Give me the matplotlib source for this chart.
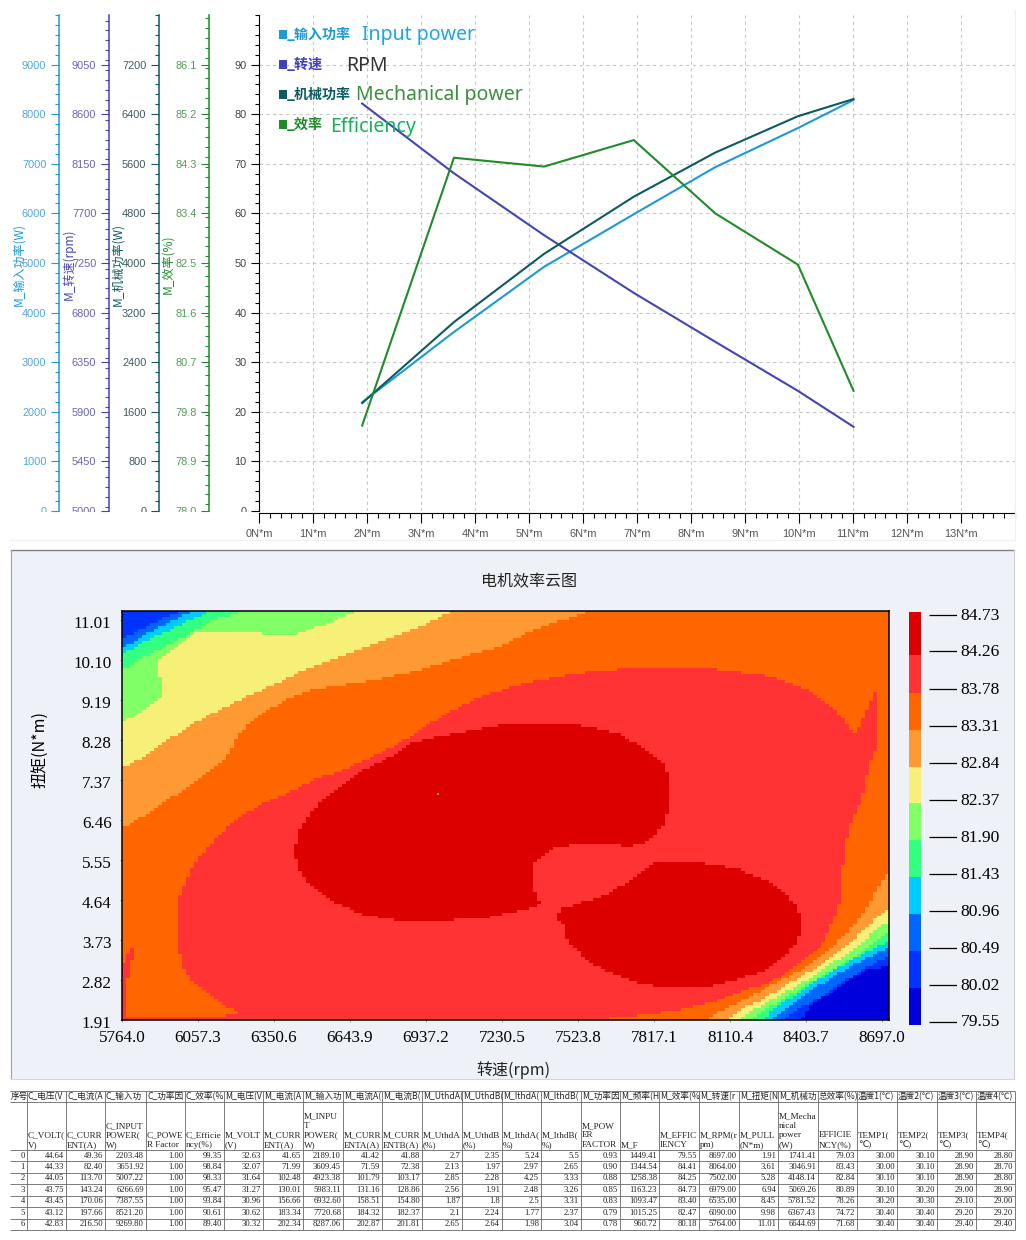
import numpy as np
import matplotlib
matplotlib.use('Agg')
import matplotlib.pyplot as plt
from matplotlib.colors import ListedColormap, BoundaryNorm
from matplotlib.lines import Line2D
from matplotlib.patches import Rectangle
from matplotlib.path import Path
from matplotlib.ticker import MultipleLocator
from matplotlib.transforms import Bbox, TransformedBbox, ScaledTranslation

W, H = 1026, 1240
CJK = ['Noto Sans CJK SC', 'DejaVu Sans']
ARIAL = 'Liberation Sans'
SERIF = 'Liberation Serif'

# curvas de arriba
torque = [1.91, 3.61, 5.28, 6.94, 8.45, 9.98, 11.01]
input_power = [2189.10, 3609.45, 4923.38, 5983.11, 6932.60, 7720.68, 8287.06]
rpm = [8697, 8064, 7502, 6979, 6535, 6090, 5764]
mech_power = [1741.41, 3046.91, 4148.14, 5069.26, 5781.52, 6367.43, 6644.69]
efficiency = [79.55, 84.41, 84.25, 84.73, 83.40, 82.47, 80.18]

# bandas del mapa
levels = [79.55, 80.02, 80.49, 80.96, 81.43, 81.90, 82.37, 82.84, 83.31, 83.78, 84.26, 84.73]
band_colors = ['#0000DD', '#0033FF', '#0066FF', '#00CCFF', '#33FF80', '#80FF66',
               '#F7F078', '#FF9933', '#FF6600', '#FF3333', '#DD0000']
rpm_ticks = [5764.0, 6057.3, 6350.6, 6643.9, 6937.2, 7230.5, 7523.8, 7817.1, 8110.4, 8403.7, 8697.0]
torque_ticks = [1.91, 2.82, 3.73, 4.64, 5.55, 6.46, 7.37, 8.28, 9.19, 10.10, 11.01]
RPM_MAX, TORQUE_MAX = 8724, 11.22

# contornos (rpm, par), banda 8 es el fondo
tl_band7 = [(5764, 6.28), (5872, 6.64), (5999, 7.14), (6104, 7.55), (6169, 7.89), (6219, 8.44), (6285, 8.80),
            (6401, 9.24), (6517, 9.46), (6709, 9.62), (6902, 9.87), (7095, 10.21), (7223, 10.40), (7319, 10.71),
            (7408, 10.90), (7493, 11.06), (7570, 11.22), (5764, 11.22)]
tl_band6 = [(5764, 7.64), (5845, 7.89), (5961, 8.35), (6065, 8.74), (6173, 9.08), (6324, 9.49), (6451, 9.83),
            (6644, 10.28), (6810, 10.62), (6941, 10.94), (7041, 11.22), (5764, 11.22)]
tl_band5 = [(5764, 8.67), (5822, 8.85), (5872, 9.08), (5911, 9.26), (5911, 9.71), (5899, 9.83), (5911, 10.15),
            (5957, 10.37), (6038, 10.71), (6123, 10.76), (6285, 10.76), (6308, 10.71), (6439, 10.71),
            (6567, 10.96), (6671, 11.22), (5764, 11.22)]
tl_band4 = [(5764, 9.87), (5845, 10.17), (5938, 10.44), (6015, 10.67), (6115, 11.01), (6227, 11.22), (5764, 11.22)]
tl_band3 = [(5764, 10.21), (5833, 10.49), (5922, 10.71), (5999, 10.94), (6104, 11.22), (5764, 11.22)]
tl_band2 = [(5764, 10.37), (5806, 10.51), (5884, 10.78), (5976, 11.06), (6038, 11.22), (5764, 11.22)]
tl_band1 = [(5764, 10.56), (5806, 10.71), (5884, 10.94), (5988, 11.22), (5764, 11.22)]

main_band9 = [(5764, 1.91), (5764, 3.14), (5779, 3.32), (5795, 3.46), (5810, 3.57), (5822, 3.57), (5810, 3.50),
              (5810, 3.30), (5795, 3.25), (5795, 2.89), (5779, 2.87), (5779, 1.98), (6057, 1.98), (6192, 2.02),
              (6223, 2.09), (6154, 2.25), (6092, 2.52), (6038, 2.77), (5999, 3.12), (5980, 3.55), (5972, 4.41),
              (5988, 4.75), (6015, 5.16), (6046, 5.48), (6092, 5.82), (6150, 6.19), (6219, 6.53), (6308, 6.85),
              (6432, 7.14), (6501, 7.37), (6617, 7.60), (6748, 7.94), (6887, 8.39), (7003, 8.85), (7134, 9.24),
              (7242, 9.46), (7338, 9.60), (7454, 9.74), (7609, 9.87), (7840, 9.96), (7983, 9.94), (8103, 9.87),
              (8245, 9.76), (8342, 9.60), (8438, 9.35), (8523, 8.92), (8573, 8.55), (8585, 8.39), (8604, 8.55),
              (8639, 8.96), (8666, 9.39), (8678, 9.39), (8678, 8.14), (8651, 7.76), (8620, 6.98), (8581, 6.46),
              (8562, 6.07), (8546, 5.39), (8531, 4.57), (8504, 4.12), (8458, 3.57), (8388, 3.28), (8330, 2.98),
              (8253, 2.75), (8141, 2.52), (8033, 2.30), (7917, 2.14), (7736, 2.00), (7639, 1.96), (7639, 1.91)]
blob_left = [(6432, 5.85), (6443, 6.23), (6478, 6.53), (6528, 6.85), (6598, 7.19), (6709, 7.64), (6818, 7.94),
             (6887, 8.23), (7018, 8.39), (7184, 8.58), (7288, 8.67), (7466, 8.67), (7582, 8.55), (7674, 8.44),
             (7736, 8.23), (7802, 8.01), (7852, 7.76), (7879, 7.44), (7879, 6.92), (7867, 6.53), (7848, 6.30),
             (7813, 6.07), (7782, 5.94), (7724, 5.87), (7609, 5.94), (7570, 5.94), (7501, 5.91), (7435, 5.82),
             (7377, 5.62), (7350, 5.44), (7350, 4.87), (7362, 4.82), (7362, 4.64), (7377, 4.59), (7358, 4.48),
             (7242, 4.34), (7184, 4.25), (7068, 4.19), (6837, 4.16), (6694, 4.32), (6605, 4.53), (6540, 4.75),
             (6478, 5.05), (6443, 5.37), (6432, 5.62)]
blob_right = [(7450, 4.34), (7466, 4.46), (7570, 4.64), (7659, 4.84), (7751, 5.21), (7821, 5.50), (7983, 5.50),
              (8137, 5.37), (8276, 5.03), (8342, 4.69), (8369, 4.48), (8384, 4.25), (8384, 3.89), (8369, 3.66),
              (8315, 3.34), (8226, 2.98), (8083, 2.75), (8045, 2.68), (7821, 2.68), (7751, 2.77), (7620, 3.05),
              (7558, 3.28), (7501, 3.62), (7481, 3.73), (7466, 4.14), (7450, 4.19)]

br_band7 = [(8014, 1.91), (8099, 2.18), (8187, 2.43), (8292, 2.77), (8392, 3.05), (8485, 3.46), (8573, 3.96),
            (8639, 4.48), (8681, 4.94), (8712, 5.23), (8724, 5.23), (8724, 1.91)]
br_band6 = [(8103, 1.91), (8160, 2.18), (8253, 2.43), (8342, 2.75), (8431, 3.05), (8515, 3.43), (8600, 3.80),
            (8678, 4.25), (8724, 4.48), (8724, 1.91)]
br_band5 = [(8145, 1.91), (8214, 2.18), (8315, 2.52), (8407, 2.82), (8508, 3.21), (8600, 3.57), (8689, 4.03),
            (8724, 4.12), (8724, 1.91)]
br_band4 = [(8191, 1.91), (8265, 2.21), (8342, 2.48), (8419, 2.75), (8523, 3.09), (8612, 3.43), (8689, 3.78),
            (8724, 3.89), (8724, 1.91)]
br_band3 = [(8234, 1.91), (8303, 2.25), (8380, 2.55), (8469, 2.89), (8562, 3.21), (8639, 3.46), (8724, 3.68),
            (8724, 1.91)]
br_band2 = [(8276, 1.91), (8342, 2.25), (8407, 2.52), (8508, 2.89), (8600, 3.21), (8678, 3.43), (8724, 3.53),
            (8724, 1.91)]
br_band1 = [(8322, 1.91), (8380, 2.18), (8458, 2.43), (8546, 2.77), (8639, 3.12), (8724, 3.34), (8724, 1.91)]
br_band0 = [(8388, 1.91), (8419, 2.25), (8485, 2.48), (8562, 2.82), (8639, 3.05), (8724, 3.14), (8724, 1.91)]

regions = [(7, tl_band7), (6, tl_band6), (5, tl_band5), (4, tl_band4), (3, tl_band3), (2, tl_band2), (1, tl_band1),
           (9, main_band9), (10, blob_left), (10, blob_right),
           (7, br_band7), (6, br_band6), (5, br_band5), (4, br_band4), (3, br_band3),
           (2, br_band2), (1, br_band1), (0, br_band0)]

# tabla
table_head_cn = ['序号', 'C_电压(V', 'C_电流(A', 'C_输入功', 'C_功率因', 'C_效率(%', 'M_电压(V', 'M_电流(A', 'M_输入功',
                 'M_电流A(', 'M_电流B(', 'M_UthdA(', 'M_UthdB(', 'M_IthdA(', 'M_IthdB(', 'M_功率因', 'M_频率(H',
                 'M_效率(%', 'M_转速(r', 'M_扭矩(N', 'M_机械功', '总效率(%)', '温度1(℃)', '温度2(℃)', '温度3(℃)', '温度4(℃)']
table_head_en = ['', 'C_VOLT(\nV)', 'C_CURR\nENT(A)', 'C_INPUT\nPOWER(\nW)', 'C_POWE\nR Factor', 'C_Efficie\nncy(%)',
                 'M_VOLT\n(V)', 'M_CURR\nENT(A)', 'M_INPU\nT\nPOWER(\nW)', 'M_CURR\nENTA(A)', 'M_CURR\nENTB(A)',
                 'M_UthdA\n(%)', 'M_UthdB\n(%)', 'M_IthdA(\n%)', 'M_IthdB(\n%)', 'M_POW\nER\nFACTOR', 'M_F',
                 'M_EFFIC\nIENCY', 'M_RPM(r\npm)', 'M_PULL\n(N*m)', 'M_Mecha\nnical\npower\n(W)', 'EFFICIE\nNCY(%)',
                 'TEMP1(\n℃)', 'TEMP2(\n℃)', 'TEMP3(\n℃)', 'TEMP4(\n℃)']
table_rows = [
    ['0', '44.64', '49.36', '2203.48', '1.00', '99.35', '32.63', '41.65', '2189.10', '41.42', '41.88', '2.7', '2.35',
     '5.24', '5.5', '0.93', '1449.41', '79.55', '8697.00', '1.91', '1741.41', '79.03', '30.00', '30.10', '28.90', '28.80'],
    ['1', '44.33', '82.40', '3651.92', '1.00', '98.84', '32.07', '71.99', '3609.45', '71.59', '72.38', '2.13', '1.97',
     '2.97', '2.65', '0.90', '1344.54', '84.41', '8064.00', '3.61', '3046.91', '83.43', '30.00', '30.10', '28.90', '28.70'],
    ['2', '44.05', '113.70', '5007.22', '1.00', '98.33', '31.64', '102.48', '4923.38', '101.79', '103.17', '2.85', '2.28',
     '4.25', '3.33', '0.88', '1258.38', '84.25', '7502.00', '5.28', '4148.14', '82.84', '30.10', '30.10', '28.90', '28.80'],
    ['3', '43.75', '143.24', '6266.69', '1.00', '95.47', '31.27', '130.01', '5983.11', '131.16', '128.86', '2.56', '1.91',
     '2.48', '3.26', '0.85', '1163.23', '84.73', '6979.00', '6.94', '5069.26', '80.89', '30.10', '30.20', '29.00', '28.90'],
    ['4', '43.45', '170.06', '7387.55', '1.00', '93.84', '30.96', '156.66', '6932.60', '158.51', '154.80', '1.87', '1.8',
     '2.5', '3.31', '0.83', '1093.47', '83.40', '6535.00', '8.45', '5781.52', '78.26', '30.20', '30.30', '29.10', '29.00'],
    ['5', '43.12', '197.66', '8521.20', '1.00', '90.61', '30.62', '183.34', '7720.68', '184.32', '182.37', '2.1', '2.24',
     '1.77', '2.37', '0.79', '1015.25', '82.47', '6090.00', '9.98', '6367.43', '74.72', '30.40', '30.40', '29.20', '29.20'],
    ['6', '42.83', '216.50', '9269.80', '1.00', '89.40', '30.32', '202.34', '8287.06', '202.87', '201.81', '2.65', '2.64',
     '1.98', '3.04', '0.78', '960.72', '80.18', '5764.00', '11.01', '6644.69', '71.68', '30.40', '30.40', '29.40', '29.40'],
]


def px_axes(x0, y0, x1, y1, **kw):
    return fig.add_axes([x0 / W, 1 - y1 / H, (x1 - x0) / W, (y1 - y0) / H], **kw)


def px_text(x, y, s, size, **kw):
    # size en pixeles
    kw.setdefault('va', 'center')
    return fig.text(x / W, 1 - y / H, s, fontsize=size * 0.72, **kw)


fig = plt.figure(figsize=(W / 100, H / 100), dpi=100, facecolor='white')

# ---- panel de curvas ----
TOP_Y, BOT_Y, LEFT_X, RIGHT_X = 15, 511, 259, 1015
ax = px_axes(LEFT_X, TOP_Y, RIGHT_X, BOT_Y)
ax.set_xlim(0, 14)
ax.set_ylim(0, 100)
for s in ['top', 'right']:
    ax.spines[s].set_visible(False)
ax.spines['bottom'].set_position(('outward', 1.4))
ax.set_xticks(range(0, 14))
ax.set_xticklabels([f'{i}N*m' for i in range(0, 14)], fontsize=11 * 0.72, family=ARIAL, color='#555555')
ax.xaxis.set_minor_locator(MultipleLocator(0.2))
ax.tick_params(axis='x', which='major', length=7.5, width=0.8, pad=4)
ax.tick_params(axis='x', which='minor', length=3.6, width=0.8)
ax.set_yticks(range(0, 100, 10))
ax.set_yticklabels([str(v) for v in range(0, 100, 10)], fontsize=11 * 0.72, family=ARIAL, color='#444444')
ax.yaxis.set_minor_locator(MultipleLocator(2))
ax.tick_params(axis='y', which='major', length=6, width=0.8, pad=3)
ax.tick_params(axis='y', which='minor', length=3, width=0.8)
ax.grid(True, which='major', color='#C8C8C8', linestyle=(0, (3, 3)), linewidth=0.8)
ax.set_axisbelow(True)
ax.set_ylim(0, 100)

axis_specs = [
    (59, 0, 10000, 1000, '{:.0f}', input_power, '#1C9AD6', '#4FA8E0', 'M_输入功率(W)', 19),
    (109, 5000, 9500, 450, '{:.0f}', rpm, '#4444B4', '#6A62BE', 'M_转速(rpm)', 69),
    (159, 0, 8000, 800, '{:.0f}', mech_power, '#0B5B60', '#405A62', 'M_机械功率(W)', 118),
    (209, 78, 87, 0.9, '{:.1f}', efficiency, '#1E8C2A', '#549C55', 'M_效率(%)', 168),
]
clip = TransformedBbox(Bbox([[0, 1 - 512 / H], [1, 1]]), fig.transFigure)
for lab in ax.get_yticklabels():
    lab.set_clip_on(True)
    lab.set_clip_box(clip)

for xpos, lo, hi, step, fmt, vals, col, tcol, name, lx in axis_specs:
    tw = ax.twinx()
    tw.set_ylim(lo, hi)
    for s in ['top', 'right', 'bottom']:
        tw.spines[s].set_visible(False)
    tw.spines['left'].set_visible(True)
    tw.spines['left'].set_position(('outward', (LEFT_X - xpos) * 0.72))
    tw.spines['left'].set_color(col)
    tw.spines['left'].set_linewidth(1.1)
    tw.yaxis.set_ticks_position('left')
    ticks = [lo + step * i for i in range(10)]
    tw.set_yticks(ticks)
    tw.set_yticklabels([fmt.format(t) for t in ticks], fontsize=11 * 0.72, family=ARIAL, color=tcol)
    tw.yaxis.set_minor_locator(MultipleLocator(step / 5))
    tw.tick_params(axis='y', which='major', length=6, width=0.8, pad=3, color=col)
    tw.tick_params(axis='y', which='minor', length=3, width=0.8, color=col)
    for lab in tw.get_yticklabels():
        lab.set_clip_on(True)
        lab.set_clip_box(clip)
    tw.plot(torque, vals, color=col, linewidth=1.5, clip_on=False)
    px_text(lx, 264, name, 12, rotation=90, ha='center', family=CJK, color=col)

legend_rows = [(35, '_输入功率', '#1C9AD6', 'Input power', 362, '#1AA7EE', 35),
               (65, '_转速', '#3F3FC0', 'RPM', 346, '#333333', 66),
               (95, '_机械功率', '#0B5B60', 'Mechanical power', 356, '#3C8F3C', 95),
               (125, '_效率', '#1E8C2A', 'Efficiency', 330, '#14B35A', 127)]
for y, cn, col, en, ex, ecol, ey in legend_rows:
    fig.add_artist(Rectangle((279 / W, 1 - (y + 4) / H), 8 / W, 9 / H, transform=fig.transFigure,
                             facecolor=col, edgecolor='none'))
    px_text(287, y, cn, 14, family=CJK, color=col, weight='bold')
    px_text(ex, ey, en, 19.5, family='Noto Sans', color=ecol)

# borde claro del panel de curvas
fig.add_artist(Line2D([1015 / W, 1015 / W], [1 - 10 / H, 1 - 540 / H], color='#F0F0F0', linewidth=0.8))
fig.add_artist(Line2D([10 / W, 1015 / W], [1 - 540 / H, 1 - 540 / H], color='#F0F0F0', linewidth=0.8))

# ---- panel del mapa ----
fig.add_artist(Rectangle((11 / W, 1 - 1079 / H), 1003 / W, 529 / H, transform=fig.transFigure,
                         facecolor='#EEF1F7', edgecolor='none', zorder=-5))
for xs, ys, c, lw in [((11, 1014), (550, 550), '#808080', 1.0), ((11, 11), (550, 1079), '#A0A0A0', 0.8),
                      ((1014, 1014), (550, 1079), '#CFCFCF', 0.8), ((11, 1014), (1079, 1079), '#D5D5D5', 0.8)]:
    fig.add_artist(Line2D([x / W for x in xs], [1 - y / H for y in ys], color=c, linewidth=lw, zorder=-4))

hm = px_axes(122, 611, 889, 1020)
hm.set_zorder(2)
rpm_edges = np.linspace(rpm_ticks[0], RPM_MAX, 192 + 1)
tor_edges = np.linspace(torque_ticks[0], TORQUE_MAX, 137 + 1)
rr, tt = np.meshgrid((rpm_edges[:-1] + rpm_edges[1:]) / 2, (tor_edges[:-1] + tor_edges[1:]) / 2)
pts = np.column_stack([rr.ravel(), tt.ravel()])
mids = [(levels[i] + levels[i + 1]) / 2 for i in range(len(levels) - 1)]
zz = np.full(rr.size, mids[8])
for band, poly in regions:
    zz[Path(poly).contains_points(pts)] = mids[band]
zz = zz.reshape(rr.shape)
hm.pcolormesh(rpm_edges, tor_edges, zz, cmap=ListedColormap(band_colors), norm=BoundaryNorm(levels, len(band_colors)))
hm.plot([6983], [7.05], marker='s', markersize=1.8, color='#7FA85A', markeredgewidth=0)
hm.set_xlim(rpm_ticks[0], RPM_MAX)
hm.set_ylim(torque_ticks[0], TORQUE_MAX)
hm.set_xticks(rpm_ticks)
hm.set_xticklabels([f'{v:.1f}' for v in rpm_ticks], fontsize=17 * 0.72, family=SERIF)
hm.set_yticks(torque_ticks)
hm.set_yticklabels([f'{v:.2f}' for v in torque_ticks], fontsize=17 * 0.72, family=SERIF)
hm.tick_params(axis='x', length=1.5, width=0.6, color='#888888', pad=6)
hm.tick_params(axis='y', length=1.5, width=0.6, color='#888888', pad=6)
# las etiquetas del eje y van 2 px por debajo del valor
label_shift = ScaledTranslation(0, -2 / 100, fig.dpi_scale_trans)
for lab in hm.get_yticklabels():
    lab.set_transform(lab.get_transform() + label_shift)
for s in hm.spines.values():
    s.set_linewidth(1.1)

px_text(529, 582, '电机效率云图', 16, ha='center', family=CJK, color='#222222')
px_text(40, 749, '扭矩(N*m)', 16, ha='center', rotation=90, family=CJK)
px_text(513, 1070, '转速(rpm)', 16, ha='center', family=CJK, color='#222222')

# barra de color
lev_top, lev_bot = 612, 1025
cb = px_axes(909, lev_top, 921, lev_bot)
cb.set_zorder(2)
per_px = (levels[-1] - levels[0]) / 407
cb_edges = [v - 3.5 * per_px for v in levels[:-1]] + [levels[-1] + 2.5 * per_px]
cb.bar(0.5, np.diff(cb_edges), bottom=cb_edges[:-1], width=1, color=band_colors)
cb.set_xlim(0, 1)
cb.set_ylim(cb_edges[0], cb_edges[-1])
cb.axis('off')
cl = px_axes(929, lev_top, 957, lev_bot)
cl.set_zorder(2)
cl.set_xlim(0, 1)
cl.set_ylim(cb_edges[0], cb_edges[-1])
cl.hlines(levels, 0, 1, color='black', linewidth=0.9)
for v in levels:
    cl.text(1.13, v - per_px, f'{v:.2f}', fontsize=17.5 * 0.72, family=SERIF, va='center', clip_on=False)
cl.axis('off')

# ---- tabla ----
col_edges = [10, 27, 66, 105, 146, 185, 224, 263, 303, 343, 382, 422, 462, 502, 541, 581, 620, 659, 699, 739, 778, 818,
             857, 897, 937, 976, 1015]
row_edges = [1091, 1102, 1150, 1161, 1172.5, 1184, 1195.5, 1207, 1218.5, 1230]
tb = fig.add_axes([0, 0, 1, 1])
tb.set_xlim(0, W)
tb.set_ylim(H, 0)
tb.axis('off')
tb.patch.set_alpha(0)
tb.vlines(col_edges[1:], row_edges[0], row_edges[-1], color='#666666', linewidth=0.6)
tb.hlines(row_edges, col_edges[0], col_edges[-1], color='#666666', linewidth=0.6)
for i in range(len(col_edges) - 1):
    x0, x1 = col_edges[i], col_edges[i + 1]
    tb.text(x0 + 1, (row_edges[0] + row_edges[1]) / 2, table_head_cn[i], fontsize=8.6 * 0.72, family=CJK,
            va='center', ha='left', color='#222222', clip_on=True,
            clip_box=TransformedBbox(Bbox([[x0, row_edges[1]], [x1, row_edges[0]]]), tb.transData))
    tb.text(x0 + 1, row_edges[2] - 1, table_head_en[i], fontsize=9.2 * 0.72, family=[SERIF, 'DejaVu Sans'], va='bottom',
            ha='left', color='#222222', linespacing=1.26)
    for r, row in enumerate(table_rows):
        tb.text(x1 - 2, (row_edges[r + 2] + row_edges[r + 3]) / 2, row[i], fontsize=8.6 * 0.72, family=SERIF,
                va='center', ha='right', color='#222222')

fig.savefig('out.png', dpi=100)
